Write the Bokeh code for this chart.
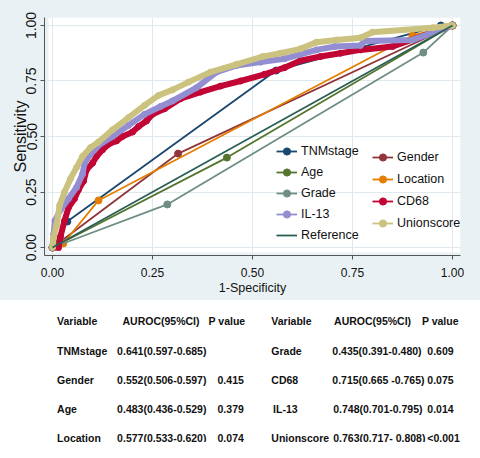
from bokeh.plotting import figure
from bokeh.models import Range1d, FixedTicker, Legend, LegendItem, BoxAnnotation, GlobalInlineStyleSheet
from bokeh.layouts import column
from bokeh.embed import file_html
from bokeh.resources import INLINE
from bokeh.core.properties import value

# ---------------- data ----------------
tnm_x = [0, 0.037, 0.559, 0.971, 1]
tnm_y = [0, 0.117, 0.797, 1.0, 1]
gender_x = [0, 0.314, 1]
gender_y = [0, 0.423, 1]
age_x = [0, 0.436, 1]
age_y = [0, 0.405, 1]
location_x = [0, 0.027, 0.115, 0.90, 1]
location_y = [0, 0.018, 0.212, 0.955, 1]
grade_x = [0, 0.287, 0.927, 1]
grade_y = [0, 0.194, 0.878, 1]
cd68_x = [0, 0.015, 0.02, 0.03, 0.04, 0.055, 0.065, 0.078, 0.085, 0.10, 0.11, 0.125, 0.14, 0.16,
          0.175, 0.20, 0.215, 0.235, 0.25, 0.28, 0.32, 0.37, 0.42, 0.47, 0.53, 0.58, 0.62, 0.67,
          0.72, 0.77, 0.85, 1]
cd68_y = [0, 0.0, 0.05, 0.12, 0.18, 0.22, 0.26, 0.30, 0.35, 0.38, 0.41, 0.44, 0.465, 0.48,
          0.50, 0.52, 0.545, 0.57, 0.60, 0.625, 0.67, 0.70, 0.727, 0.75, 0.78, 0.81, 0.842, 0.86,
          0.875, 0.89, 0.905, 1]
il13_x = [0, 0.003, 0.006, 0.02, 0.04, 0.06, 0.075, 0.08, 0.095, 0.115, 0.15, 0.19, 0.23, 0.27,
          0.30, 0.36, 0.41, 0.46, 0.52, 0.58, 0.62, 0.66, 0.706, 0.77, 0.78, 0.90, 1]
il13_y = [0, 0.06, 0.12, 0.17, 0.22, 0.27, 0.33, 0.38, 0.42, 0.46, 0.50, 0.55, 0.60, 0.635,
          0.66, 0.72, 0.79, 0.82, 0.835, 0.85, 0.87, 0.89, 0.905, 0.91, 0.93, 0.935, 1]
union_x = [0, 0.002, 0.01, 0.018, 0.03, 0.045, 0.06, 0.075, 0.095, 0.115, 0.15, 0.19, 0.23, 0.265,
           0.30, 0.34, 0.395, 0.46, 0.525, 0.57, 0.62, 0.66, 0.71, 0.77, 0.80, 0.95, 1]
union_y = [0, 0.04, 0.10, 0.19, 0.25, 0.31, 0.36, 0.41, 0.45, 0.475, 0.53, 0.585, 0.64, 0.685,
           0.71, 0.745, 0.79, 0.825, 0.86, 0.875, 0.895, 0.925, 0.935, 0.945, 0.97, 0.99, 1]
ref_x = [0, 1]
ref_y = [0, 1]

tick_vals = [0, 0.25, 0.5, 0.75, 1]
tick_labels = ["0.00", "0.25", "0.50", "0.75", "1.00"]

headers = ["Variable", "AUROC(95%CI)", "P value"]
left_vars = ["TNMstage", "Gender", "Age", "Location"]
left_auroc = ["0.641(0.597-0.685)", "0.552(0.506-0.597)", "0.483(0.436-0.529)", "0.577(0.533-0.620)"]
left_p = ["", "0.415", "0.379", "0.074"]
right_vars = ["Grade", "CD68", "IL-13", "Unionscore"]
right_auroc = ["0.435(0.391-0.480)", "0.715(0.665 -0.765)", "0.748(0.701-0.795)", "0.763(0.717- 0.808)"]
right_p = ["0.609", "0.075", "0.014", "<0.001"]

# ---------------- style ----------------
BG = "#eaf1f4"
FONT = "Liberation Sans"
C = dict(tnm="#1a476f", gender="#90353b", age="#55752f", location="#e37e00",
         grade="#6e8e84", cd68="#c10534", il13="#938dd2", union="#cac27e", ref="#2a5f55")

p = figure(width=464, height=300, output_backend="svg", toolbar_location=None,
           x_range=Range1d(-0.02, 1.02), y_range=Range1d(-0.036, 1.036),
           min_border_left=44, min_border_right=4, min_border_top=17, min_border_bottom=45)
p.border_fill_color = BG
p.background_fill_color = BG
p.outline_line_color = None
p.add_layout(BoxAnnotation(left=-0.01, bottom=-0.0225, fill_color="white", fill_alpha=1,
                           line_color=None, level="image"))

for ax in (p.xaxis[0], p.yaxis[0]):
    ax.ticker = FixedTicker(ticks=tick_vals)
    ax.major_label_overrides = {v: s for v, s in zip(tick_vals, tick_labels)}
    ax.minor_tick_line_color = None
    ax.major_tick_in = 0
    ax.major_tick_out = 4
    ax.axis_line_color = "#555555"
    ax.major_tick_line_color = "#555555"
    ax.major_label_text_color = "#111111"
    ax.axis_label_text_color = "#111111"
    ax.axis_label_text_font_style = "normal"
    ax.major_label_text_font = FONT
    ax.axis_label_text_font = FONT

p.xaxis.axis_label = "1-Specificity"
p.xaxis.major_label_text_font_size = "12px"
p.xaxis.axis_label_text_font_size = "12.5px"
p.xaxis.major_label_standoff = 8
p.xaxis.axis_label_standoff = 1

p.yaxis.axis_label = "Sensitivity"
p.yaxis.major_label_orientation = "vertical"
p.yaxis.major_label_text_font_size = "14px"
p.yaxis.axis_label_text_font_size = "16px"
p.yaxis.major_label_standoff = 4
p.yaxis.axis_label_standoff = -5

for g in (p.xgrid[0], p.ygrid[0]):
    g.ticker = FixedTicker(ticks=tick_vals)
    g.grid_line_color = "#dfe8ec"
    g.grid_line_width = 1

items = {}

def cat_series(key, xs, ys):
    ln = p.line(xs, ys, line_color=C[key], line_width=1.8)
    sc = p.scatter(xs, ys, size=7, fill_color=C[key], line_color=C[key])
    items[key] = [ln, sc]

def cont_series(key, xs, ys):
    ln = p.line(xs, ys, line_color=C[key], line_width=1.8)
    sc = p.scatter(xs, ys, size=6, fill_color=C[key], line_color=C[key])
    p.line(xs, ys, line_color=C[key], line_width=6, line_join="miter")
    items[key] = [ln, sc]

cat_series("tnm", tnm_x, tnm_y)
cat_series("gender", gender_x, gender_y)
cat_series("age", age_x, age_y)
cat_series("location", location_x, location_y)
cat_series("grade", grade_x, grade_y)
cont_series("cd68", cd68_x, cd68_y)
cont_series("il13", il13_x, il13_y)
cont_series("union", union_x, union_y)
ref = p.line(ref_x, ref_y, line_color=C["ref"], line_width=1.8)
items["ref"] = [ref]

names = dict(tnm="TNMstage", gender="Gender", age="Age", location="Location", grade="Grade",
             cd68="CD68", il13="IL-13", union="Unionscore", ref="Reference")

def make_legend(keys, loc, spacing):
    leg = Legend(items=[LegendItem(label=names[k], renderers=items[k]) for k in keys],
                 location=loc, orientation="vertical", padding=0, margin=0, spacing=spacing,
                 glyph_width=21, glyph_height=18, label_height=18, label_standoff=4,
                 label_text_font=FONT, label_text_font_size="12.5px", label_text_color="#111111",
                 border_line_color=None, background_fill_alpha=0)
    p.add_layout(leg)

make_legend(["tnm", "age", "grade", "il13", "ref"], (232, 11), 3)
make_legend(["gender", "location", "cd68", "union"], (328, 23), 4)

# ---------------- table ----------------
t = figure(width=464, height=142, output_backend="svg", toolbar_location=None,
           x_range=Range1d(0, 464), y_range=Range1d(442, 300), min_border=0,
           x_axis_location=None, y_axis_location=None)
t.grid.visible = False
t.outline_line_color = None
t.background_fill_color = "white"
t.border_fill_color = "white"

header_y = 320
row_y = [350 + 29 * i for i in range(len(left_vars))]
fmt = dict(text_font=value(FONT), text_font_style="bold", text_font_size="10.5px",
           text_color="#111111", text_baseline="middle", text_align="left")

t.text(x=[14, 87, 183, 253, 323, 421], y=[header_y] * 6, text=headers + headers, **fmt)
t.text(x=[14] * 4, y=row_y, text=left_vars, **fmt)
t.text(x=[81] * 4, y=row_y, text=left_auroc, **fmt)
t.text(x=[193] * 4, y=row_y, text=left_p, **fmt)
t.text(x=[253, 253, 255, 253], y=row_y, text=right_vars, **fmt)
t.text(x=[321, 321, 322, 322], y=row_y, text=right_auroc, **fmt)
t.text(x=[427] * 4, y=row_y, text=right_p, **fmt)

layout = column(p, t, spacing=0)
layout.stylesheets = [GlobalInlineStyleSheet(
    css="html{background:linear-gradient(#eaf1f4 0px, #eaf1f4 300px, #ffffff 300px) no-repeat;}")]
open("out.html", "w").write(file_html(layout, INLINE))
